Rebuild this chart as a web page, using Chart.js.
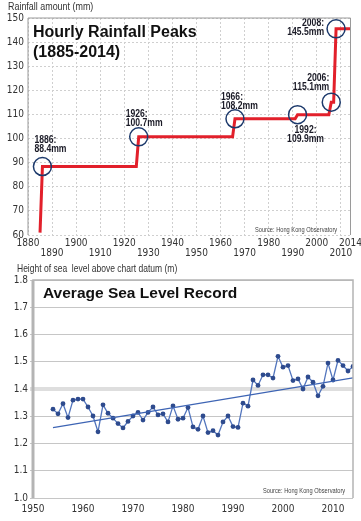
<!DOCTYPE html>
<html>
<head>
<meta charset="utf-8">
<script src="https://cdn.jsdelivr.net/npm/chart.js@4"></script>
<style>
body { margin: 0; background: #fff; }
#wrap { position: relative; width: 361px; height: 521px; overflow: hidden; font-family: "Liberation Sans", Arial, sans-serif; }
canvas { position: absolute; left: 0; }
#rainChart { top: 0; }
#seaChart { top: 262px; }
.cap { position: absolute; font-size: 10.5px; line-height: 11px; color: #333; white-space: nowrap; transform: scaleX(0.85); transform-origin: 0 0; }
.title { position: absolute; font-weight: bold; color: #111; white-space: nowrap; }
.src { position: absolute; font-size: 6.7px; line-height: 7px; color: #444; white-space: nowrap; transform: scaleX(0.85); transform-origin: 0 0; }
</style>
</head>
<body>
<div id="wrap">
  <canvas id="rainChart" width="361" height="262"></canvas>
  <canvas id="seaChart" width="361" height="259"></canvas>
  <div class="cap" style="left:8px; top:1px;">Rainfall amount (mm)</div>
  <div class="title" style="left:33px; top:22px; font-size:16px; line-height:20px;">Hourly Rainfall Peaks<br>(1885-2014)</div>
  <div class="src" style="left:255px; top:226px;">Source: Hong Kong Observatory</div>
  <div class="cap" style="left:17px; top:263px; transform: scaleX(0.81);">Height of sea&nbsp; level above chart datum (m)</div>
  <div class="title" style="left:43px; top:285px; font-size:15.5px; line-height:15.5px;">Average Sea Level Record</div>
  <div class="src" style="left:263px; top:487px;">Source: Hong Kong Observatory</div>
</div>
<script>
// hourly rainfall records
const recordYears = [1886, 1926, 1966, 1992, 2006, 2008];
const recordPeaks = [88.4, 100.7, 108.2, 109.9, 115.1, 145.5];
const rainStartYear = 1885;
const rainStartValue = 61;
const rainEndYear = 2014;
const rainXTicks = [1880, 1890, 1900, 1910, 1920, 1930, 1940, 1950, 1960, 1970, 1980, 1990, 2000, 2010, 2014];
const rainYTicks = [60, 70, 80, 90, 100, 110, 120, 130, 140, 150];

// yearly mean sea level
const seaYears = [1954, 1955, 1956, 1957, 1958, 1959, 1960, 1961, 1962, 1963,
    1964, 1965, 1966, 1967, 1968, 1969, 1970, 1971, 1972, 1973,
    1974, 1975, 1976, 1977, 1978, 1979, 1980, 1981, 1982, 1983,
    1984, 1985, 1986, 1987, 1988, 1989, 1990, 1991, 1992, 1993,
    1994, 1995, 1996, 1997, 1998, 1999, 2000, 2001, 2002, 2003,
    2004, 2005, 2006, 2007, 2008, 2009, 2010, 2011, 2012, 2013, 2014];
const seaLevels = [1.326, 1.309, 1.346, 1.295, 1.359, 1.363, 1.363, 1.334, 1.301, 1.243,
    1.342, 1.311, 1.293, 1.273, 1.257, 1.281, 1.301, 1.314, 1.286, 1.314,
    1.334, 1.305, 1.309, 1.279, 1.338, 1.289, 1.293, 1.332, 1.261, 1.252,
    1.301, 1.240, 1.247, 1.231, 1.279, 1.301, 1.262, 1.259, 1.348, 1.337,
    1.433, 1.413, 1.452, 1.452, 1.440, 1.520, 1.480, 1.486, 1.431, 1.437,
    1.400, 1.444, 1.425, 1.375, 1.410, 1.495, 1.433, 1.505, 1.486, 1.466, 1.483];
const trendYears = [1954, 2014];
const trendLevels = [1.258, 1.441];
const seaXTicks = [1950, 1960, 1970, 1980, 1990, 2000, 2010];
const seaYTicks = [1.0, 1.1, 1.2, 1.3, 1.4, 1.5, 1.6, 1.7, 1.8];

const narrow = '"DejaVu Sans Condensed", "Liberation Sans", sans-serif';
const RED = '#e2202b';
const NAVY = '#1d3a6c';

// step line: hold the old record until the year before a new one
const rainLine = [{x: rainStartYear, y: rainStartValue}];
recordYears.forEach((yr, i) => {
    if (i > 0) rainLine.push({x: yr - 1, y: recordPeaks[i - 1]});
    rainLine.push({x: yr, y: recordPeaks[i]});
});
rainLine.push({x: rainEndYear, y: recordPeaks[recordPeaks.length - 1]});
const rainCircles = recordYears.map((yr, i) => ({x: yr, y: recordPeaks[i]}));

// where each record label sits round its circle
const labelPlace = [
    {align: 'left', dx: -8, dy: -26},
    {align: 'left', dx: -13, dy: -23},
    {align: 'left', dx: -14, dy: -22},
    {align: 'center', dx: 8, dy: 15},
    {align: 'right', dx: -2, dy: -24},
    {align: 'right', dx: -12, dy: -6}
];

function setTicks(list) {
    return scale => { scale.ticks = list.map(v => ({value: v})); };
}

const frame = {
    id: 'frame',
    afterDraw(chart, args, opts) {
        const {ctx, chartArea: a} = chart;
        ctx.save();
        ctx.strokeStyle = opts.color;
        ctx.lineWidth = opts.width;
        ctx.beginPath();
        ctx.moveTo(a.left, a.bottom);
        ctx.lineTo(a.left, a.top);
        ctx.lineTo(a.right, a.top);
        ctx.lineTo(a.right, a.bottom);
        ctx.stroke();
        if (opts.leftWidth) {
            ctx.lineWidth = opts.leftWidth;
            ctx.beginPath();
            ctx.moveTo(a.left, a.bottom);
            ctx.lineTo(a.left, a.top);
            ctx.stroke();
        }
        ctx.restore();
    }
};

// condensed bold labels: squeeze Liberation Sans Bold sideways
const recordLabels = {
    id: 'recordLabels',
    afterDatasetsDraw(chart) {
        const {ctx, scales: {x, y}} = chart;
        const squeeze = 0.82;
        ctx.save();
        ctx.font = 'bold 10.5px "Liberation Sans", Arial, sans-serif';
        ctx.fillStyle = '#1a1a26';
        ctx.textBaseline = 'middle';
        recordYears.forEach((yr, i) => {
            const p = labelPlace[i];
            const cx = x.getPixelForValue(yr);
            const cy = y.getPixelForValue(recordPeaks[i]);
            ctx.save();
            ctx.translate(cx + p.dx, cy + p.dy);
            ctx.scale(squeeze, 1);
            ctx.textAlign = p.align;
            ctx.fillText(yr + ':', 0, 0);
            ctx.fillText(recordPeaks[i].toFixed(1) + 'mm', 0, 9);
            ctx.restore();
        });
        ctx.restore();
    }
};

new Chart(document.getElementById('rainChart'), {
    type: 'line',
    data: {
        datasets: [
            {
                data: rainCircles,
                showLine: false,
                pointRadius: 9,
                pointHoverRadius: 9,
                pointBorderWidth: 1.5,
                pointBorderColor: NAVY,
                pointBackgroundColor: 'rgba(0,0,0,0)'
            },
            {
                data: rainLine,
                borderColor: RED,
                borderWidth: 3,
                pointRadius: 0,
                borderJoinStyle: 'miter'
            }
        ]
    },
    options: {
        responsive: false,
        animation: false,
        events: [],
        layout: {padding: {top: 18, right: 6, left: 0, bottom: 0}},
        plugins: {
            legend: {display: false},
            tooltip: {enabled: false},
            frame: {color: '#9a9a9a', width: 1}
        },
        scales: {
            x: {
                type: 'linear',
                min: 1880,
                max: rainEndYear,
                afterBuildTicks: setTicks(rainXTicks),
                afterFit: s => { s.height = 27; s.paddingLeft = 0; s.paddingRight = 0; },
                grid: {color: '#cfcfcf', lineWidth: 1, drawTicks: false},
                border: {display: false, dash: [2, 2]},
                ticks: {
                    autoSkip: false,
                    maxRotation: 0,
                    padding: 3,
                    color: '#333',
                    font: {family: narrow, size: 10, lineHeight: 1},
                    callback: (v, i) => i % 2 === 0 ? [String(v), ''] : ['', String(v)]
                }
            },
            y: {
                min: 60,
                max: 150,
                afterBuildTicks: setTicks(rainYTicks),
                afterFit: s => { s.width = 28; s.paddingTop = 0; s.paddingBottom = 0; },
                grid: {color: '#cfcfcf', lineWidth: 1, drawTicks: false},
                border: {display: false, dash: [2, 2]},
                ticks: {padding: 4, color: '#333', font: {family: narrow, size: 10}}
            }
        }
    },
    plugins: [frame, recordLabels]
});

const seaPoints = seaYears.map((yr, i) => ({x: yr, y: seaLevels[i]}));
const trendPoints = trendYears.map((yr, i) => ({x: yr, y: trendLevels[i]}));
const isHighlight = c => c.tick && Math.abs(c.tick.value - 1.4) < 1e-6;

new Chart(document.getElementById('seaChart'), {
    type: 'line',
    data: {
        datasets: [
            {
                data: trendPoints,
                borderColor: '#3d64b4',
                borderWidth: 1.3,
                pointRadius: 0
            },
            {
                data: seaPoints,
                borderColor: '#5275bd',
                borderWidth: 1.3,
                pointRadius: 2.4,
                pointBorderWidth: 0,
                pointBackgroundColor: '#2e4b8e'
            }
        ]
    },
    options: {
        responsive: false,
        animation: false,
        events: [],
        layout: {padding: {top: 18, right: 8, left: 0, bottom: 0}},
        plugins: {
            legend: {display: false},
            tooltip: {enabled: false},
            frame: {color: '#b4b4b4', width: 1.5, leftWidth: 3}
        },
        scales: {
            x: {
                type: 'linear',
                min: 1950,
                max: 2014,
                afterBuildTicks: setTicks(seaXTicks),
                afterFit: s => { s.height = 23; s.paddingLeft = 0; s.paddingRight = 0; },
                grid: {display: false, drawTicks: false},
                border: {display: false},
                ticks: {
                    autoSkip: false,
                    maxRotation: 0,
                    padding: 5,
                    color: '#333',
                    font: {family: narrow, size: 10},
                    callback: v => String(v)
                }
            },
            y: {
                min: 1.0,
                max: 1.8,
                afterBuildTicks: setTicks(seaYTicks),
                afterFit: s => { s.width = 33; s.paddingTop = 0; s.paddingBottom = 0; },
                grid: {
                    color: c => isHighlight(c) ? '#dedede' : '#c6c6c6',
                    lineWidth: c => isHighlight(c) ? 4 : 1,
                    tickLength: 3
                },
                border: {display: false},
                ticks: {
                    padding: 2,
                    color: '#333',
                    font: {family: narrow, size: 10},
                    callback: v => v.toFixed(1)
                }
            }
        }
    },
    plugins: [frame]
});
</script>
</body>
</html>
